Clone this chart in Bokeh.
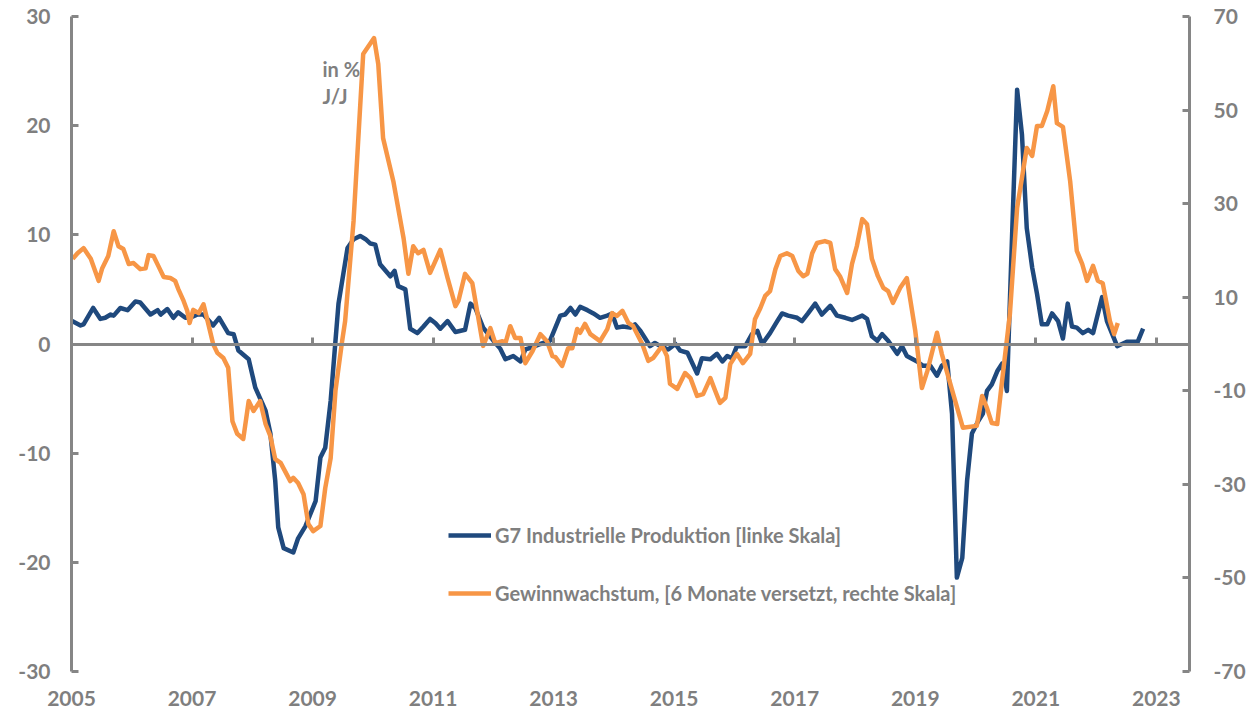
from bokeh.plotting import figure
from bokeh.models import Range1d, LinearAxis, FixedTicker, Legend, LegendItem, Label
from bokeh.embed import file_html
from bokeh.resources import INLINE

# ---------------- data ----------------
ip_years = [2005.01, 2005.15, 2005.20, 2005.36, 2005.48, 2005.56, 2005.65, 2005.70, 2005.81, 2005.93,
            2006.06, 2006.14, 2006.31, 2006.43, 2006.48, 2006.59, 2006.69, 2006.77, 2006.89, 2006.97,
            2007.09, 2007.19, 2007.35, 2007.45, 2007.60, 2007.69, 2007.77, 2007.94, 2008.05, 2008.22,
            2008.30, 2008.38, 2008.43, 2008.52, 2008.68, 2008.76, 2008.88, 2009.05, 2009.13, 2009.21,
            2009.30, 2009.38, 2009.43, 2009.58, 2009.68, 2009.79, 2009.88, 2009.96, 2010.04, 2010.12,
            2010.29, 2010.36, 2010.42, 2010.54, 2010.62, 2010.74, 2010.84, 2010.95, 2011.04, 2011.12,
            2011.24, 2011.37, 2011.53, 2011.62, 2011.70, 2011.83, 2012.00, 2012.11, 2012.20, 2012.33,
            2012.45, 2012.53, 2012.65, 2012.78, 2012.94, 2013.11, 2013.19, 2013.28, 2013.36, 2013.44,
            2013.56, 2013.66, 2013.77, 2013.89, 2013.97, 2014.05, 2014.15, 2014.27, 2014.35, 2014.44,
            2014.52, 2014.60, 2014.68, 2014.77, 2014.90, 2015.02, 2015.10, 2015.22, 2015.38, 2015.46,
            2015.60, 2015.71, 2015.80, 2015.88, 2015.96, 2016.04, 2016.18, 2016.29, 2016.38, 2016.46,
            2016.59, 2016.71, 2016.79, 2016.89, 2017.04, 2017.12, 2017.22, 2017.34, 2017.45, 2017.59,
            2017.70, 2017.84, 2017.95, 2018.12, 2018.20, 2018.28, 2018.37, 2018.45, 2018.55, 2018.70,
            2018.78, 2018.86, 2019.03, 2019.13, 2019.25, 2019.36, 2019.44, 2019.53, 2019.61, 2019.66,
            2019.69, 2019.78, 2019.86, 2019.94, 2020.04, 2020.12, 2020.19, 2020.27, 2020.36, 2020.44,
            2020.52, 2020.62, 2020.69, 2020.77, 2020.85, 2020.94, 2021.02, 2021.10, 2021.19, 2021.27,
            2021.37, 2021.45, 2021.53, 2021.60, 2021.68, 2021.78, 2021.87, 2021.95, 2022.10, 2022.18,
            2022.35, 2022.51, 2022.69, 2022.78]
ip_values = [2.1, 1.7, 1.8, 3.3, 2.3, 2.4, 2.7, 2.6, 3.3, 3.1,
             3.9, 3.8, 2.7, 3.1, 2.7, 3.2, 2.4, 2.9, 2.4, 2.4,
             2.7, 2.7, 1.7, 2.4, 1.0, 0.9, -0.6, -1.4, -4.0, -6.1,
             -8.2, -12.5, -16.8, -18.7, -19.1, -17.8, -16.7, -14.4, -10.4, -9.5,
             -5.2, 0.3, 3.7, 8.8, 9.6, 9.9, 9.6, 9.2, 9.1, 7.3,
             6.2, 6.7, 5.3, 5.0, 1.4, 1.0, 1.6, 2.3, 1.9, 1.4,
             2.1, 1.1, 1.3, 3.7, 3.3, 1.5, 0.3, -0.4, -1.4, -1.1,
             -1.6, -0.5, -0.3, 0.0, 0.3, 2.6, 2.7, 3.3, 2.7, 3.4,
             3.1, 2.8, 2.4, 2.6, 2.8, 1.5, 1.6, 1.5, 1.8, 1.2,
             0.5, -0.2, 0.1, -0.2, -0.5, 0.0, -0.6, -0.8, -2.7, -1.3,
             -1.4, -0.9, -1.6, -1.1, -1.3, -0.2, -0.2, 0.9, 1.2, 0.0,
             1.0, 2.1, 2.8, 2.6, 2.4, 2.1, 2.8, 3.7, 2.7, 3.5,
             2.6, 2.4, 2.2, 2.6, 2.3, 0.7, 0.3, 0.9, 0.3, -0.9,
             -0.2, -1.1, -1.6, -2.0, -2.0, -2.9, -2.0, -1.6, -6.4, -15.6,
             -21.4, -19.6, -12.5, -8.2, -7.1, -6.4, -4.3, -3.7, -2.5, -1.8,
             -4.3, 12.2, 23.3, 19.2, 10.6, 7.0, 4.6, 1.8, 1.8, 2.8,
             2.1, 0.5, 3.7, 1.6, 1.5, 1.0, 1.3, 1.0, 4.3, 2.1,
             -0.2, 0.2, 0.2, 1.4]

earn_years = [2005.02, 2005.10, 2005.20, 2005.32, 2005.45, 2005.51, 2005.61, 2005.70, 2005.78, 2005.86,
              2005.95, 2006.03, 2006.14, 2006.23, 2006.28, 2006.36, 2006.44, 2006.53, 2006.64, 2006.72,
              2006.77, 2006.86, 2006.92, 2006.96, 2007.02, 2007.11, 2007.19, 2007.27, 2007.35, 2007.42,
              2007.52, 2007.60, 2007.67, 2007.75, 2007.85, 2007.94, 2008.02, 2008.13, 2008.22, 2008.30,
              2008.38, 2008.47, 2008.63, 2008.68, 2008.76, 2008.85, 2008.93, 2009.01, 2009.13, 2009.21,
              2009.30, 2009.38, 2009.49, 2009.54, 2009.68, 2009.84, 2010.02, 2010.09, 2010.17, 2010.34,
              2010.51, 2010.59, 2010.67, 2010.75, 2010.84, 2010.95, 2011.12, 2011.24, 2011.37, 2011.42,
              2011.53, 2011.65, 2011.73, 2011.83, 2011.95, 2012.03, 2012.15, 2012.20, 2012.28, 2012.36,
              2012.45, 2012.53, 2012.65, 2012.78, 2012.89, 2012.98, 2013.03, 2013.14, 2013.24, 2013.31,
              2013.39, 2013.44, 2013.52, 2013.61, 2013.77, 2013.89, 2013.97, 2014.05, 2014.14, 2014.24,
              2014.32, 2014.47, 2014.57, 2014.65, 2014.80, 2014.88, 2014.93, 2015.05, 2015.18, 2015.27,
              2015.38, 2015.48, 2015.60, 2015.68, 2015.76, 2015.85, 2015.93, 2016.04, 2016.14, 2016.26,
              2016.34, 2016.43, 2016.51, 2016.59, 2016.68, 2016.76, 2016.87, 2016.96, 2017.06, 2017.14,
              2017.21, 2017.29, 2017.37, 2017.50, 2017.59, 2017.67, 2017.75, 2017.87, 2017.95, 2018.03,
              2018.12, 2018.20, 2018.28, 2018.38, 2018.47, 2018.55, 2018.63, 2018.75, 2018.86, 2019.00,
              2019.11, 2019.20, 2019.36, 2019.44, 2019.63, 2019.79, 2020.02, 2020.11, 2020.19, 2020.27,
              2020.36, 2020.44, 2020.57, 2020.69, 2020.85, 2020.94, 2021.02, 2021.10, 2021.19, 2021.29,
              2021.35, 2021.45, 2021.57, 2021.68, 2021.77, 2021.85, 2021.95, 2022.03, 2022.11, 2022.23,
              2022.30, 2022.36]
earn_values = [18.2, 19.4, 20.5, 18.2, 13.5, 16.2, 18.8, 24.1, 20.9, 20.3,
               17.1, 17.3, 16.0, 16.2, 19.0, 18.8, 16.7, 14.3, 14.1, 13.5,
               11.8, 9.2, 7.1, 4.5, 7.3, 6.6, 8.5, 4.3, 0.0, -1.9,
               -3.0, -5.1, -16.5, -19.2, -20.3, -12.2, -14.3, -12.2, -17.1, -19.7,
               -24.6, -25.4, -29.3, -28.6, -29.7, -32.1, -38.5, -40.0, -38.9, -30.8,
               -24.4, -10.0, 0.6, 4.9, 26.3, 62.0, 65.4, 59.8, 44.0, 34.8,
               22.6, 15.0, 20.9, 19.4, 20.1, 15.2, 20.1, 14.1, 8.1, 9.2,
               15.0, 13.0, 7.1, -0.4, 3.4, 0.2, 0.6, 0.2, 3.8, 1.3,
               1.3, -4.1, -1.5, 2.1, 0.6, -2.6, -2.8, -4.7, -0.9, -0.9,
               3.2, 2.4, 4.3, 2.1, 0.6, 3.2, 6.6, 6.0, 7.1, 4.5,
               3.8, 0.0, -3.6, -3.0, -0.4, -2.6, -8.5, -9.6, -6.2, -7.3,
               -11.1, -10.7, -7.3, -10.0, -12.6, -11.5, -4.3, -2.1, -4.1, -2.1,
               5.3, 7.7, 10.3, 11.3, 16.0, 18.8, 19.4, 18.8, 15.6, 14.5,
               15.0, 19.4, 21.6, 22.0, 21.6, 16.0, 14.5, 10.9, 17.1, 20.9,
               26.7, 25.6, 18.2, 14.5, 12.0, 11.3, 8.8, 12.0, 14.1, 2.8,
               -9.4, -5.8, 2.4, -2.1, -10.7, -17.9, -17.5, -11.1, -13.7, -16.9,
               -17.1, -7.9, 6.4, 29.1, 41.9, 40.2, 46.6, 46.6, 49.8, 55.1,
               47.2, 46.4, 34.8, 19.9, 17.1, 13.5, 16.7, 13.5, 13.0, 4.9,
               2.1, 4.5]

year_ticks = [2005, 2007, 2009, 2011, 2013, 2015, 2017, 2019, 2021, 2023]
left_ticks = [-30, -20, -10, 0, 10, 20, 30]
right_ticks = [-70, -50, -30, -10, 10, 30, 50, 70]
series_names = ["G7 Industrielle Produktion [linke Skala]",
                "Gewinnwachstum, [6 Monate versetzt, rechte Skala]"]
unit_lines = ["in %", "J/J"]

# ---------------- styling ----------------
GRAY = "#868686"
TXT = "#7f7f7f"
BLUE = "#1F497D"
ORANGE = "#F79646"
FONT = "Lato"

p = figure(width=1251, height=715,
           x_range=Range1d(2005, 2023.55), y_range=Range1d(-30, 30),
           output_backend="svg", toolbar_location=None,
           x_axis_location=None, y_axis_location="left",
           min_border_left=71, min_border_right=62, min_border_top=16, min_border_bottom=44)
p.outline_line_color = None
p.xgrid.visible = False
p.ygrid.visible = False
p.background_fill_color = "white"
p.border_fill_color = "white"

p.extra_y_ranges = {"right": Range1d(-70, 70)}


def style_axis(ax, standoff, ticks):
    ax.ticker = FixedTicker(ticks=ticks)
    ax.major_label_overrides = {t: str(t) for t in ticks}
    ax.axis_line_color = GRAY
    ax.axis_line_width = 3
    ax.major_tick_line_color = GRAY
    ax.major_tick_line_width = 3
    ax.major_tick_in = 7
    ax.major_tick_out = 0
    ax.minor_tick_line_color = None
    ax.major_label_text_font = FONT
    ax.major_label_text_font_style = "bold"
    ax.major_label_text_font_size = "21px"
    ax.major_label_text_color = TXT
    ax.major_label_standoff = standoff


# left axis
ly = p.yaxis[0]
style_axis(ly, 21, left_ticks)

# right axis
ry = LinearAxis(y_range_name="right")
style_axis(ry, 24, right_ticks)
p.add_layout(ry, "right")

# year labels at the bottom (regular axis, line and ticks hidden)
bx = LinearAxis()
style_axis(bx, 19, year_ticks)
bx.axis_line_color = None
bx.major_tick_line_color = None
p.add_layout(bx, "below")

# zero line with year ticks (fixed at 0)
zx = LinearAxis(fixed_location=0)
style_axis(zx, 0, year_ticks)
zx.major_label_text_color = None
p.add_layout(zx, "below")

# series
r_ip = p.line(ip_years, ip_values, line_color=BLUE, line_width=4.5, line_join="round")
r_earn = p.line(earn_years, earn_values, y_range_name="right",
                line_color=ORANGE, line_width=4.5, line_join="round")

legend = Legend(items=[LegendItem(label=series_names[0], renderers=[r_ip]),
                       LegendItem(label=series_names[1], renderers=[r_earn])],
                location=(377, 66), orientation="vertical",
                glyph_width=43, glyph_height=20, label_height=20, spacing=34,
                label_standoff=4, padding=0, margin=0,
                border_line_color=None, background_fill_alpha=0,
                label_text_font=FONT, label_text_font_style="bold",
                label_text_font_size="20px", label_text_color=TXT)
p.add_layout(legend, "center")

for i, t in enumerate(unit_lines):
    p.add_layout(Label(x=251, y=603 - i * 27, x_units="screen", y_units="screen",
                       text=t, text_font=FONT, text_font_style="bold",
                       text_font_size="20px", text_color=TXT,
                       text_baseline="middle", text_align="left"))

open("out.html", "w").write(file_html(p, INLINE))
